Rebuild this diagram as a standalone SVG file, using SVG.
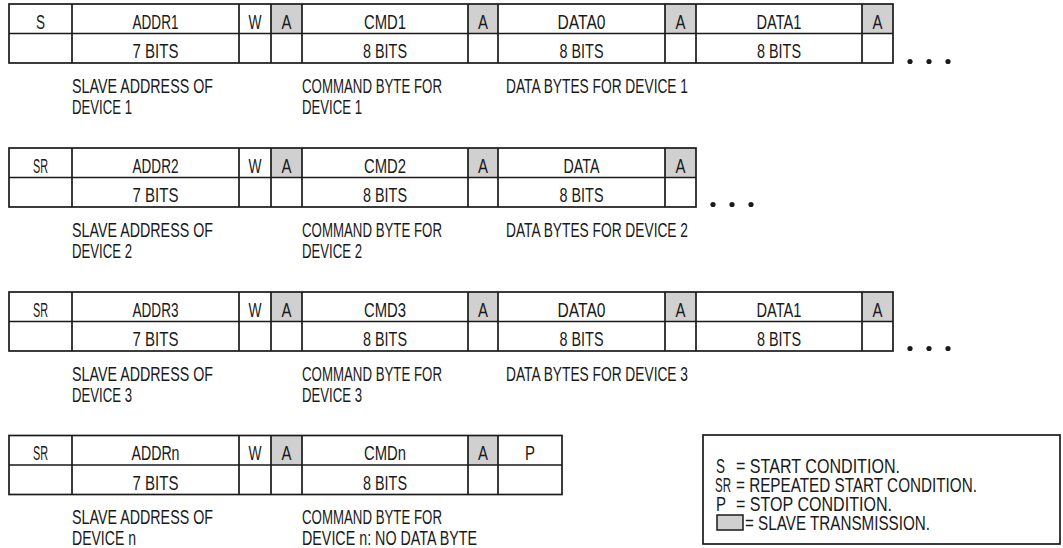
<svg xmlns="http://www.w3.org/2000/svg" width="1063" height="548" viewBox="0 0 1063 548">
<style>
text{font-family:"Liberation Sans Narrow","Liberation Sans",Arial,sans-serif;font-size:20px;fill:#1a1a1a}
.c{text-anchor:middle}
.g{fill:#d0d0d0;stroke:none}
.box{fill:none;stroke:#1a1a1a;stroke-width:1.7}
.ln{stroke:#1a1a1a;stroke-width:1.7;fill:none}
.dot{fill:#1a1a1a}
</style>
<rect width="1063" height="548" fill="#fff"/>
<g id="connectors"/>

<g id="frame1">
<rect class="g" x="271" y="4" width="31" height="29.5"/>
<rect class="g" x="468" y="4" width="30" height="29.5"/>
<rect class="g" x="665" y="4" width="31" height="29.5"/>
<rect class="g" x="862" y="4" width="31" height="29.5"/>
<rect class="box" x="9" y="4" width="884" height="59"/>
<path class="ln" d="M9 33.5H893M72 4V63M239 4V63M271 4V63M302 4V63M468 4V63M498 4V63M665 4V63M696 4V63M862 4V63"/>
<text class="c" x="40.5" y="28.5" textLength="9" lengthAdjust="spacingAndGlyphs">S</text>
<text class="c" x="155.5" y="28.5" textLength="46" lengthAdjust="spacingAndGlyphs">ADDR1</text>
<text class="c" x="255" y="28.5" textLength="13" lengthAdjust="spacingAndGlyphs">W</text>
<text class="c" x="286.5" y="28.5" textLength="10" lengthAdjust="spacingAndGlyphs">A</text>
<text class="c" x="385" y="28.5" textLength="42" lengthAdjust="spacingAndGlyphs">CMD1</text>
<text class="c" x="483" y="28.5" textLength="10" lengthAdjust="spacingAndGlyphs">A</text>
<text class="c" x="581.5" y="28.5" textLength="48" lengthAdjust="spacingAndGlyphs">DATA0</text>
<text class="c" x="680.5" y="28.5" textLength="10" lengthAdjust="spacingAndGlyphs">A</text>
<text class="c" x="779" y="28.5" textLength="45" lengthAdjust="spacingAndGlyphs">DATA1</text>
<text class="c" x="877.5" y="28.5" textLength="10" lengthAdjust="spacingAndGlyphs">A</text>
<text class="c" x="155.5" y="58" textLength="46" lengthAdjust="spacingAndGlyphs">7 BITS</text>
<text class="c" x="385" y="58" textLength="44" lengthAdjust="spacingAndGlyphs">8 BITS</text>
<text class="c" x="581.5" y="58" textLength="44" lengthAdjust="spacingAndGlyphs">8 BITS</text>
<text class="c" x="779" y="58" textLength="44" lengthAdjust="spacingAndGlyphs">8 BITS</text>
<circle class="dot" cx="910" cy="61.5" r="2.6"/><circle class="dot" cx="929" cy="61.5" r="2.6"/><circle class="dot" cx="948" cy="61.5" r="2.6"/>
<text x="72" y="93" textLength="141" lengthAdjust="spacingAndGlyphs">SLAVE ADDRESS OF</text>
<text x="72" y="114" textLength="60" lengthAdjust="spacingAndGlyphs">DEVICE 1</text>
<text x="302" y="93" textLength="140" lengthAdjust="spacingAndGlyphs">COMMAND BYTE FOR</text>
<text x="302" y="114" textLength="60" lengthAdjust="spacingAndGlyphs">DEVICE 1</text>
<text x="506" y="93" textLength="182" lengthAdjust="spacingAndGlyphs">DATA BYTES FOR DEVICE 1</text>
</g>

<g id="frame2">
<rect class="g" x="271" y="148" width="31" height="29.5"/>
<rect class="g" x="468" y="148" width="30" height="29.5"/>
<rect class="g" x="665" y="148" width="31" height="29.5"/>
<rect class="box" x="9" y="148" width="687" height="59"/>
<path class="ln" d="M9 177.5H696M72 148V207M239 148V207M271 148V207M302 148V207M468 148V207M498 148V207M665 148V207"/>
<text class="c" x="40.5" y="172.5" textLength="15" lengthAdjust="spacingAndGlyphs">SR</text>
<text class="c" x="155.5" y="172.5" textLength="46" lengthAdjust="spacingAndGlyphs">ADDR2</text>
<text class="c" x="255" y="172.5" textLength="13" lengthAdjust="spacingAndGlyphs">W</text>
<text class="c" x="286.5" y="172.5" textLength="10" lengthAdjust="spacingAndGlyphs">A</text>
<text class="c" x="385" y="172.5" textLength="42" lengthAdjust="spacingAndGlyphs">CMD2</text>
<text class="c" x="483" y="172.5" textLength="10" lengthAdjust="spacingAndGlyphs">A</text>
<text class="c" x="581.5" y="172.5" textLength="36" lengthAdjust="spacingAndGlyphs">DATA</text>
<text class="c" x="680.5" y="172.5" textLength="10" lengthAdjust="spacingAndGlyphs">A</text>
<text class="c" x="155.5" y="202" textLength="46" lengthAdjust="spacingAndGlyphs">7 BITS</text>
<text class="c" x="385" y="202" textLength="44" lengthAdjust="spacingAndGlyphs">8 BITS</text>
<text class="c" x="581.5" y="202" textLength="44" lengthAdjust="spacingAndGlyphs">8 BITS</text>
<circle class="dot" cx="713" cy="204.5" r="2.6"/><circle class="dot" cx="732" cy="204.5" r="2.6"/><circle class="dot" cx="751" cy="204.5" r="2.6"/>
<text x="72" y="237" textLength="141" lengthAdjust="spacingAndGlyphs">SLAVE ADDRESS OF</text>
<text x="72" y="258" textLength="60" lengthAdjust="spacingAndGlyphs">DEVICE 2</text>
<text x="302" y="237" textLength="140" lengthAdjust="spacingAndGlyphs">COMMAND BYTE FOR</text>
<text x="302" y="258" textLength="60" lengthAdjust="spacingAndGlyphs">DEVICE 2</text>
<text x="506" y="237" textLength="182" lengthAdjust="spacingAndGlyphs">DATA BYTES FOR DEVICE 2</text>
</g>

<g id="frame3">
<rect class="g" x="271" y="292" width="31" height="29.5"/>
<rect class="g" x="468" y="292" width="30" height="29.5"/>
<rect class="g" x="665" y="292" width="31" height="29.5"/>
<rect class="g" x="862" y="292" width="31" height="29.5"/>
<rect class="box" x="9" y="292" width="884" height="59"/>
<path class="ln" d="M9 321.5H893M72 292V351M239 292V351M271 292V351M302 292V351M468 292V351M498 292V351M665 292V351M696 292V351M862 292V351"/>
<text class="c" x="40.5" y="316.5" textLength="15" lengthAdjust="spacingAndGlyphs">SR</text>
<text class="c" x="155.5" y="316.5" textLength="46" lengthAdjust="spacingAndGlyphs">ADDR3</text>
<text class="c" x="255" y="316.5" textLength="13" lengthAdjust="spacingAndGlyphs">W</text>
<text class="c" x="286.5" y="316.5" textLength="10" lengthAdjust="spacingAndGlyphs">A</text>
<text class="c" x="385" y="316.5" textLength="42" lengthAdjust="spacingAndGlyphs">CMD3</text>
<text class="c" x="483" y="316.5" textLength="10" lengthAdjust="spacingAndGlyphs">A</text>
<text class="c" x="581.5" y="316.5" textLength="48" lengthAdjust="spacingAndGlyphs">DATA0</text>
<text class="c" x="680.5" y="316.5" textLength="10" lengthAdjust="spacingAndGlyphs">A</text>
<text class="c" x="779" y="316.5" textLength="45" lengthAdjust="spacingAndGlyphs">DATA1</text>
<text class="c" x="877.5" y="316.5" textLength="10" lengthAdjust="spacingAndGlyphs">A</text>
<text class="c" x="155.5" y="346" textLength="46" lengthAdjust="spacingAndGlyphs">7 BITS</text>
<text class="c" x="385" y="346" textLength="44" lengthAdjust="spacingAndGlyphs">8 BITS</text>
<text class="c" x="581.5" y="346" textLength="44" lengthAdjust="spacingAndGlyphs">8 BITS</text>
<text class="c" x="779" y="346" textLength="44" lengthAdjust="spacingAndGlyphs">8 BITS</text>
<circle class="dot" cx="910" cy="348.5" r="2.6"/><circle class="dot" cx="929" cy="348.5" r="2.6"/><circle class="dot" cx="948" cy="348.5" r="2.6"/>
<text x="72" y="381" textLength="141" lengthAdjust="spacingAndGlyphs">SLAVE ADDRESS OF</text>
<text x="72" y="402" textLength="60" lengthAdjust="spacingAndGlyphs">DEVICE 3</text>
<text x="302" y="381" textLength="140" lengthAdjust="spacingAndGlyphs">COMMAND BYTE FOR</text>
<text x="302" y="402" textLength="60" lengthAdjust="spacingAndGlyphs">DEVICE 3</text>
<text x="506" y="381" textLength="182" lengthAdjust="spacingAndGlyphs">DATA BYTES FOR DEVICE 3</text>
</g>

<g id="frame4">
<rect class="g" x="271" y="435.5" width="31" height="29.5"/>
<rect class="g" x="468" y="435.5" width="30" height="29.5"/>
<rect class="box" x="9" y="435.5" width="553" height="59"/>
<path class="ln" d="M9 465H562M72 435.5V494.5M239 435.5V494.5M271 435.5V494.5M302 435.5V494.5M468 435.5V494.5M498 435.5V494.5"/>
<text class="c" x="40.5" y="460" textLength="15" lengthAdjust="spacingAndGlyphs">SR</text>
<text class="c" x="155.5" y="460" textLength="48" lengthAdjust="spacingAndGlyphs">ADDRn</text>
<text class="c" x="255" y="460" textLength="13" lengthAdjust="spacingAndGlyphs">W</text>
<text class="c" x="286.5" y="460" textLength="10" lengthAdjust="spacingAndGlyphs">A</text>
<text class="c" x="385" y="460" textLength="42" lengthAdjust="spacingAndGlyphs">CMDn</text>
<text class="c" x="483" y="460" textLength="10" lengthAdjust="spacingAndGlyphs">A</text>
<text class="c" x="530" y="460" textLength="10" lengthAdjust="spacingAndGlyphs">P</text>
<text class="c" x="155.5" y="489.5" textLength="46" lengthAdjust="spacingAndGlyphs">7 BITS</text>
<text class="c" x="385" y="489.5" textLength="44" lengthAdjust="spacingAndGlyphs">8 BITS</text>
<text x="72" y="524" textLength="141" lengthAdjust="spacingAndGlyphs">SLAVE ADDRESS OF</text>
<text x="72" y="545" textLength="64" lengthAdjust="spacingAndGlyphs">DEVICE n</text>
<text x="302" y="524" textLength="140" lengthAdjust="spacingAndGlyphs">COMMAND BYTE FOR</text>
<text x="302" y="545" textLength="175" lengthAdjust="spacingAndGlyphs">DEVICE n: NO DATA BYTE</text>
</g>

<g id="legend">
<rect class="box" x="703" y="435" width="357" height="109"/>
<text x="716" y="473" textLength="9" lengthAdjust="spacingAndGlyphs">S</text>
<text x="736" y="473" textLength="164" lengthAdjust="spacingAndGlyphs">= START CONDITION.</text>
<text x="715" y="492" textLength="16" lengthAdjust="spacingAndGlyphs">SR</text>
<text x="736" y="492" textLength="241" lengthAdjust="spacingAndGlyphs">= REPEATED START CONDITION.</text>
<text x="716" y="511" textLength="10" lengthAdjust="spacingAndGlyphs">P</text>
<text x="736" y="511" textLength="156" lengthAdjust="spacingAndGlyphs">= STOP CONDITION.</text>
<rect x="717" y="515" width="26" height="15" fill="#d0d0d0" stroke="#1a1a1a" stroke-width="1.5"/>
<text x="745" y="530" textLength="185" lengthAdjust="spacingAndGlyphs">= SLAVE TRANSMISSION.</text>
</g>
</svg>
